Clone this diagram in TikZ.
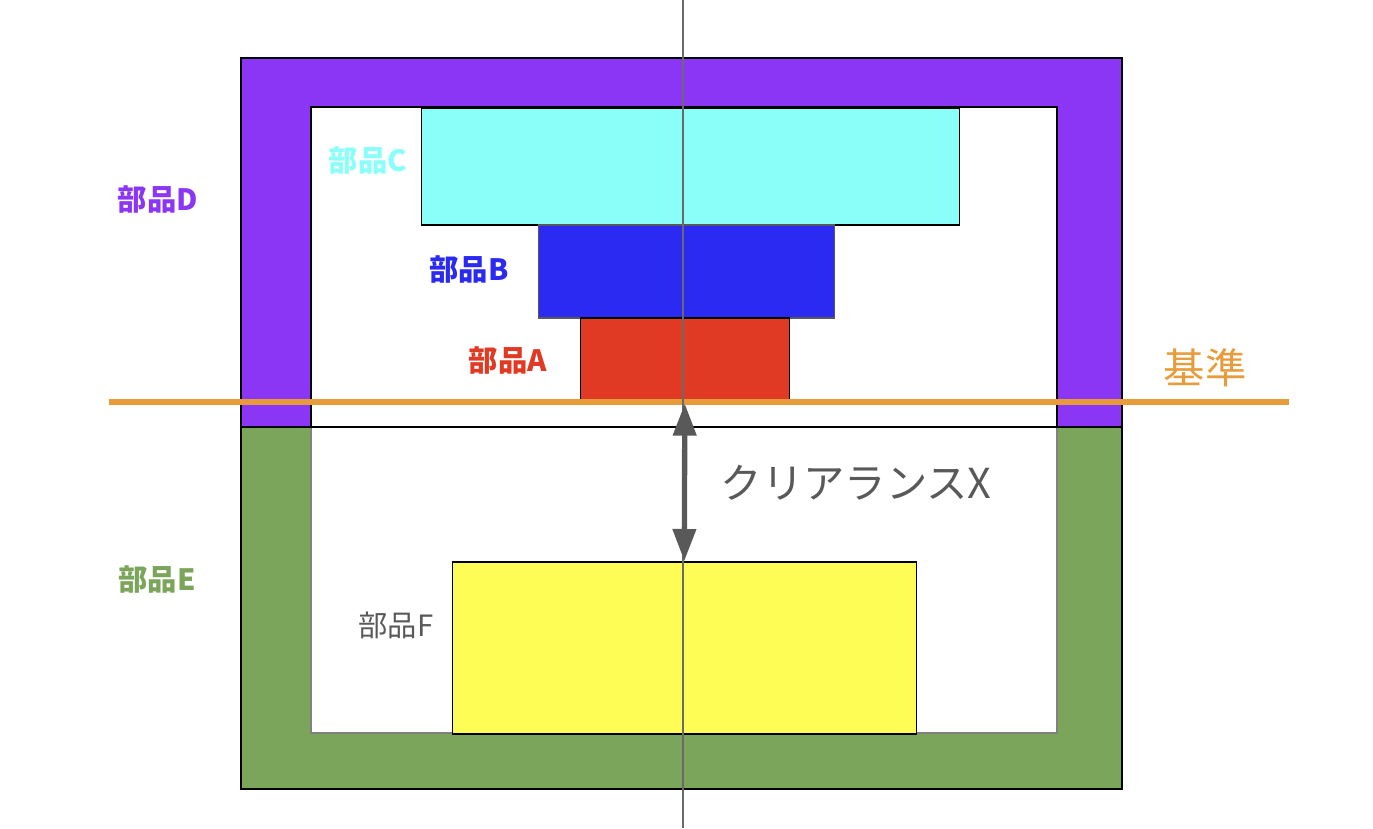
\documentclass[tikz,border=0pt]{standalone}
\usepackage{fontspec}
\usetikzlibrary{arrows.meta}
\newfontfamily\jp{Noto Sans CJK JP}
\definecolor{buhinA}{HTML}{E03A24}
\definecolor{buhinB}{HTML}{2A2AF2}
\definecolor{buhinC}{HTML}{8AFFFA}
\definecolor{buhinD}{HTML}{8B35F5}
\definecolor{buhinE}{HTML}{7BA55A}
\definecolor{buhinF}{HTML}{FDFD55}
\definecolor{kijun}{HTML}{E89B3A}
\definecolor{sumi}{HTML}{595959}
\tikzset{
  part/.style={draw=black, line width=1.2pt, inner sep=0pt, anchor=north west},
  lbl/.style={font=\jp\bfseries\fontsize{22}{26}\selectfont},
  big/.style={font=\jp\fontsize{31}{35}\selectfont}
}

\begin{document}
\begin{tikzpicture}[x=0.75pt, y=-0.75pt]
\useasboundingbox (0,0) rectangle (1373,828);
% D (top) and E (bottom)
\filldraw[fill=buhinD, line width=1.2pt] (241,58) rectangle (1122,427);
\filldraw[fill=white, line width=1.2pt] (311,107) rectangle (1057,427);
\filldraw[fill=buhinE, line width=1.2pt] (241,427) rectangle (1122,789);
\filldraw[fill=white, draw=gray, line width=1.2pt] (311,427) rectangle (1057,733);
\draw[line width=1.2pt] (241,427) -- (1122,427);
% stacked parts
\node[part, fill=buhinC, minimum width=403.5pt, minimum height=87.75pt] (C) at (420.5,107) {};
\node[part, fill=buhinB, draw=sumi, minimum width=222pt, minimum height=69.75pt] (B) at (537.5,224) {};
\node[part, fill=buhinA, minimum width=156.75pt, minimum height=63.75pt] (A) at (579.5,317) {};
\node[part, fill=buhinF, minimum width=348pt, minimum height=129pt] (F) at (451.5,561) {};
% labels
\node[lbl, text=buhinD] (labD) at (158,199) {部品D};
\node[lbl, text=buhinC] (labC) at (368,160) {部品C};
\node[lbl, text=buhinB] (labB) at (469,269) {部品B};
\node[lbl, text=buhinA] (labA) at (508,360) {部品A};
\node[lbl, text=buhinE] (labE) at (157,579) {部品E};
\node[font=\jp\fontsize{22}{26}\selectfont, text=sumi] (labF) at (396,625) {部品F};
% base line and center line
\coordinate (kL) at (109,402);
\coordinate (kR) at (1289,402);
\draw[kijun, line width=4.5pt] (kL) -- (kR);
\node[big, text=kijun] (labK) at (1205,368) {基準};
\coordinate (cT) at (683,0);
\coordinate (cB) at (683,828);
\draw[sumi!90!white, line width=1pt] (cT) -- (cB);
% clearance
\draw[sumi, line width=4pt, {Triangle[length=24pt,width=17pt]}-{Triangle[length=24pt,width=17pt]}] (A.south) -- (F.north);
\node[big, text=sumi, anchor=west] (labX) at (716,483) {クリアランスX};
\end{tikzpicture}
\end{document}
